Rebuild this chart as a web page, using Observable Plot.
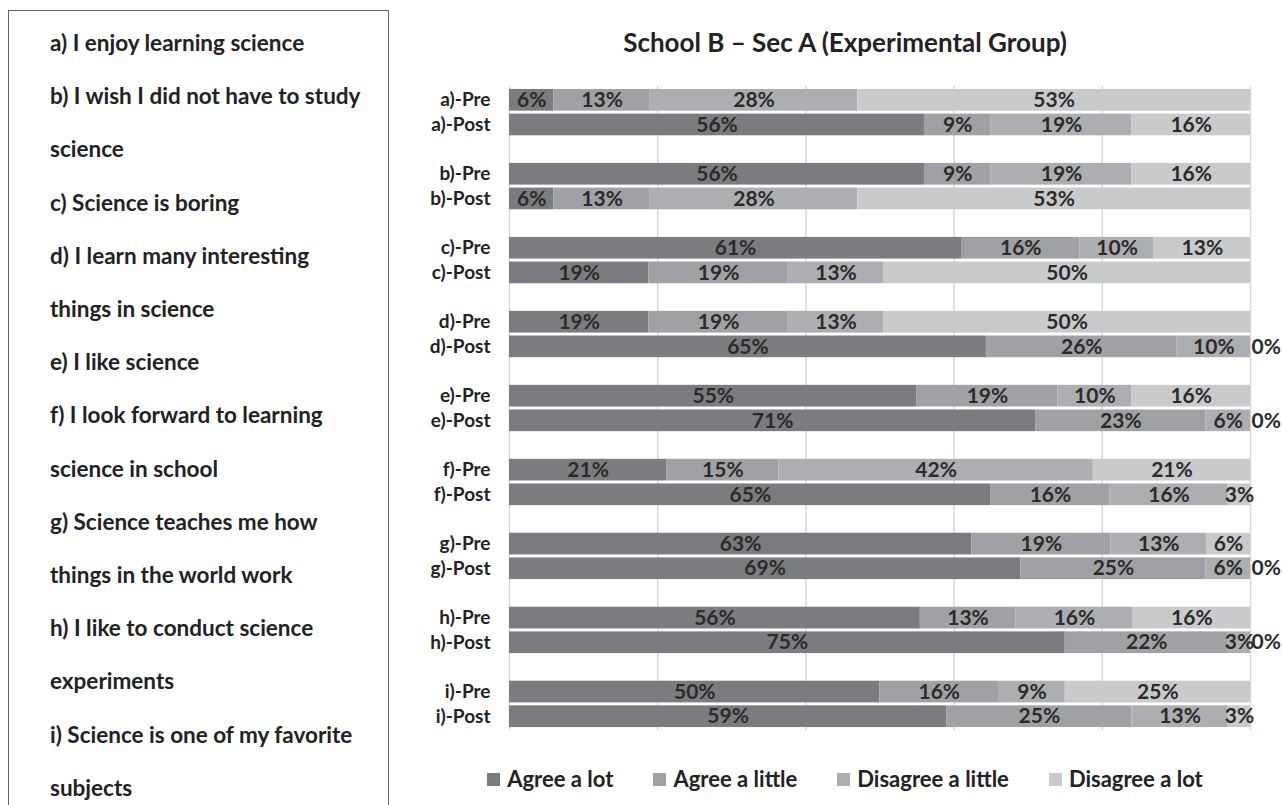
<!DOCTYPE html>
<html>
<head>
<meta charset="utf-8">
<script src="https://cdn.jsdelivr.net/npm/d3@7"></script>
<script src="https://cdn.jsdelivr.net/npm/@observablehq/plot@0.6"></script>
<style>
  html, body { margin: 0; padding: 0; background: #fff; }
  body { width: 1282px; height: 805px; position: relative; overflow: hidden; font-family: Lato, "Open Sans", sans-serif; font-weight: 700; color: #222; }
  #box { position: absolute; left: 8px; top: 10px; width: 381px; height: 820px; border: 1.5px solid #666; box-sizing: border-box; }
  #box div { position: absolute; left: 41px; font-size: 22.5px; line-height: 28px; white-space: nowrap; }
  #title { position: absolute; left: 400px; width: 890px; top: 26px; text-align: center; font-size: 26px; line-height: 32px; color: #222; }
  #chart { position: absolute; left: 400px; top: 70px; line-height: 0; }
  #legend { position: absolute; top: 764px; left: 400px; width: 890px; display: flex; justify-content: center; gap: 40px; font-size: 22px; line-height: 30px; color: #222; }
  #legend span.item { display: flex; align-items: center; }
  #legend span.sw { display: inline-block; width: 13px; height: 13px; margin-right: 7px; }
</style>
</head>
<body>
<div id="box"></div>
<div id="title"></div>
<div id="chart"></div>
<div id="legend"></div>
<script>
const titleText = "School B – Sec A (Experimental Group)";
const statementLines = [
  "a) I enjoy learning science",
  "b) I wish I did not have to study",
  "science",
  "c) Science is boring",
  "d) I learn many interesting",
  "things in science",
  "e) I like science",
  "f) I look forward to learning",
  "science in school",
  "g) Science teaches me how",
  "things in the world work",
  "h) I like to conduct science",
  "experiments",
  "i) Science is one of my favorite",
  "subjects"
];
const items = ["a", "b", "c", "d", "e", "f", "g", "h", "i"];
const phases = ["Pre", "Post"];
const categories = ["Agree a lot", "Agree a little", "Disagree a little", "Disagree a lot"];
const colors = ["#7b7c80", "#a0a1a4", "#adaeb1", "#c9cacc"];
const preValues = [
  [6, 13, 28, 53],
  [56, 9, 19, 16],
  [61, 16, 10, 13],
  [19, 19, 13, 50],
  [55, 19, 10, 16],
  [21, 15, 42, 21],
  [63, 19, 13, 6],
  [56, 13, 16, 16],
  [50, 16, 9, 25]
];
const postValues = [
  [56, 9, 19, 16],
  [6, 13, 28, 53],
  [19, 19, 13, 50],
  [65, 26, 10, 0],
  [71, 23, 6, 0],
  [65, 16, 16, 3],
  [69, 25, 6, 0],
  [75, 22, 3, 0],
  [59, 25, 13, 3]
];
const gridTicks = [0, 0.2, 0.4, 0.6, 0.8, 1];

// left statement box
const box = document.getElementById("box");
statementLines.forEach((t, i) => {
  const d = document.createElement("div");
  d.textContent = t;
  d.style.top = (42 - 10 - 14 + i * 53.2) + "px";
  box.appendChild(d);
});
document.getElementById("title").textContent = titleText;

// build rows and y domain
const rows = [];
const yDomain = [];
items.forEach((it, i) => {
  if (i > 0) yDomain.push("gap-" + it);
  phases.forEach(ph => {
    const label = `${it})-${ph}`;
    yDomain.push(label);
    const vals = ph === "Pre" ? preValues[i] : postValues[i];
    categories.forEach((c, j) => rows.push({row: label, cat: c, value: vals[j]}));
  });
});

const chart = Plot.plot({
  width: 882,
  height: 670,
  marginLeft: 109,
  marginRight: 32,
  marginTop: 16,
  marginBottom: 10,
  style: {fontFamily: "Lato, 'Open Sans', sans-serif", fontWeight: 700, fontSize: "19px", color: "#222", overflow: "visible"},
  x: {domain: [0, 1], axis: null},
  y: {domain: yDomain, padding: 0.12, round: false, axis: null},
  color: {domain: categories, range: colors},
  marks: [
    Plot.gridX(gridTicks, {stroke: "#d9d9d9", strokeOpacity: 1, strokeWidth: 1.5}),
    Plot.barX(rows, Plot.stackX({x: "value", y: "row", fill: "cat", offset: "normalize"})),
    Plot.axisY({tickSize: 0, tickPadding: 19, fontSize: 19, fontWeight: 700, fill: "#222", label: null,
      tickFormat: d => d.startsWith("gap") ? "" : d}),
    Plot.text(rows, Plot.stackX({x: "value", y: "row", z: "cat", offset: "normalize",
      text: d => d.value > 0 ? d.value + "%" : "", fill: "#2b2b2b", fontSize: 21, fontWeight: 700})),
    Plot.text(rows, Plot.stackX({x: "value", y: "row", z: "cat", offset: "normalize",
      text: d => d.value === 0 ? d.value + "%" : "", textAnchor: "start", dx: 1, fill: "#2b2b2b", fontSize: 21, fontWeight: 700}))
  ]
});
document.getElementById("chart").appendChild(chart);

// legend
const legend = document.getElementById("legend");
categories.forEach((c, i) => {
  const s = document.createElement("span");
  s.className = "item";
  s.innerHTML = `<span class="sw" style="background:${colors[i]}"></span>${c}`;
  legend.appendChild(s);
});
</script>
</body>
</html>
